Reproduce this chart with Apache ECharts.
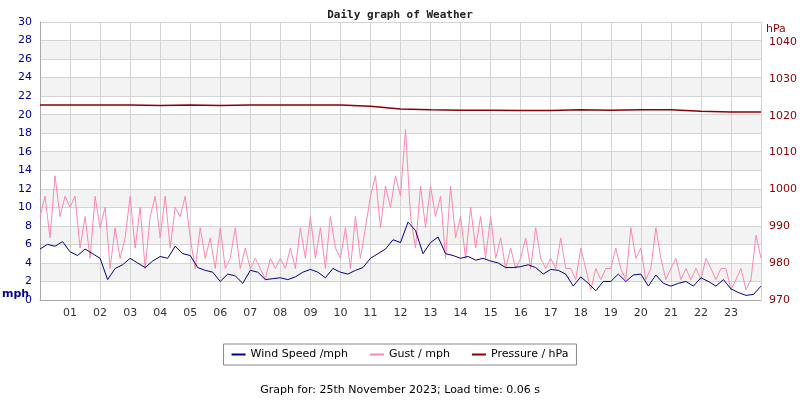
<!DOCTYPE html><html><head><meta charset="utf-8"><script src="https://cdn.jsdelivr.net/npm/echarts@6/dist/echarts.min.js"></script></head><body style="margin:0"><div id="c" style="width:800px;height:400px"></div><script>
const hourLabels=['01','02','03','04','05','06','07','08','09','10','11','12','13','14','15','16','17','18','19','20','21','22','23'];
// wind every 15 min from 00:00 to 24:00
const wind=[5.5,6,5.8,6.3,5.2,4.8,5.5,5,4.5,2.2,3.4,3.8,4.5,4,3.5,4.2,4.7,4.5,5.8,5,4.8,3.5,3.2,3,2,2.8,2.6,1.8,3.2,3,2.2,2.3,2.4,2.2,2.5,3,3.3,3,2.4,3.4,3,2.8,3.2,3.5,4.5,5,5.5,6.5,6.2,8.4,7.5,5,6.2,6.8,5,4.8,4.5,4.7,4.3,4.5,4.2,4,3.5,3.5,3.6,3.8,3.5,2.8,3.3,3.2,2.8,1.5,2.5,1.8,1,2,2,2.8,2,2.7,2.8,1.5,2.7,1.8,1.5,1.8,2,1.5,2.4,2,1.5,2.2,1.2,0.8,0.5,0.6,1.5];
// gust every 10 min
const gust=[9,11.2,6.7,13.4,9,11.2, 10,11.2,5.6,9,4.5,11.2, 7.8,10,3.4,7.8,4.5,6.7, 11.2,5.6,10,3.4,9,11.2, 6.7,11.2,5.6,10,9,11.2, 6.7,3.4,7.8,4.5,6.7,3.4, 7.8,3.4,4.5,7.8,3.4,5.6, 3.4,4.5,3.4,2.2,4.5,3.4, 4.5,3.4,5.6,3.4,7.8,4.5, 9,4.5,7.8,3.4,9,5.6, 4.5,7.8,3.4,9,4.5,7.8, 11.2,13.4,7.8,12.3,10,13.4, 11.2,18.4,9,5.6,12.3,7.8, 12.3,9,11.2,4.5,12.3,6.7, 9,4.5,10,5.6,9,4.5, 9,4.5,6.7,3.4,5.6,3.4, 4.5,6.7,3.4,7.8,4.5,3.4, 4.5,3.4,6.7,3.4,3.4,2.2, 5.6,3.4,1.1,3.4,2.2,3.4, 3.4,5.6,3.4,2.2,7.8,4.5, 5.6,2.2,3.4,7.8,4.5,2.2, 3.4,4.5,2.2,3.4,2.2,3.4, 2.2,4.5,3.4,2.2,3.4,3.4, 1.1,2.2,3.4,1.1,2.2,7.0, 4.5];
// pressure hourly
const pressure=[1022.9,1022.9,1022.9,1022.9,1022.8,1022.9,1022.8,1022.9,1022.9,1022.9,1022.9,1022.6,1021.8,1021.6,1021.5,1021.5,1021.4,1021.4,1021.6,1021.5,1021.6,1021.6,1021.2,1021.0,1021.0];
const pts=(a,step)=>a.map((v,i)=>[i*step,v]);
const c=echarts.init(document.getElementById('c'));
c.setOption({
 animation:false,
 title:[{text:'Daily graph of Weather',left:'center',top:5,textStyle:{fontFamily:'DejaVu Sans Mono',fontSize:11,fontWeight:'bold',color:'#222'}},
  {text:'Graph for: 25th November 2023; Load time: 0.06 s',left:'center',top:380,textStyle:{fontFamily:'DejaVu Sans',fontSize:11,fontWeight:'normal',color:'#000'}}],
 graphic:[{type:'text',left:2,top:289,style:{text:'mph',font:'bold 11px DejaVu Sans',fill:'#00008b'}},
  {type:'text',left:766,top:24,style:{text:'hPa',font:'11px DejaVu Sans',fill:'#8b0000'}}],
 legend:{bottom:35,left:'center',itemWidth:14,itemHeight:2,borderColor:'#888',borderWidth:1,padding:[5,8],itemGap:22,textStyle:{fontFamily:'DejaVu Sans',fontSize:11,color:'#000'},
  data:[{name:'Wind Speed /mph',icon:'rect'},{name:'Gust / mph',icon:'rect'},{name:'Pressure / hPa',icon:'rect'}]},
 grid:{left:40,right:38,top:22,bottom:100},
 xAxis:{type:'value',min:0,max:24,interval:1,axisLine:{lineStyle:{color:'#aaa'}},axisTick:{show:false},
  axisLabel:{color:'#333',fontFamily:'DejaVu Sans',fontSize:11,margin:8,formatter:v=>(v>0&&v<24)?hourLabels[v-1]:''},
  splitLine:{show:true,lineStyle:{color:'#d4d4d4'}}},
 yAxis:[{type:'value',min:0,max:30,interval:2,axisLine:{show:true,lineStyle:{color:'#aaa'}},axisTick:{show:false},
  axisLabel:{color:'#00008b',fontFamily:'DejaVu Sans',fontSize:11},
  splitLine:{lineStyle:{color:'#d4d4d4'}},splitArea:{show:true,areaStyle:{color:['#ffffff','#f3f3f3']}}},
  {type:'value',min:970,max:970+70*30/(258/9.267),interval:10,position:'right',axisLine:{show:false},axisTick:{show:false},splitLine:{show:false},
  axisLabel:{color:'#8b0000',fontFamily:'DejaVu Sans',fontSize:11,formatter:v=>v%10===0&&v<=1040?String(v):''}}],
 series:[
  {name:'Gust / mph',type:'line',data:pts(gust,1/6),showSymbol:false,lineStyle:{color:'#ff88aa',width:1},itemStyle:{color:'#ff88aa'}},
  {name:'Wind Speed /mph',type:'line',data:pts(wind,0.25),showSymbol:false,lineStyle:{color:'#00008b',width:1},itemStyle:{color:'#00008b'}},
  {name:'Pressure / hPa',type:'line',yAxisIndex:1,data:pts(pressure,1),showSymbol:false,lineStyle:{color:'#8b0000',width:1.5},itemStyle:{color:'#8b0000'}}
 ]
});
</script></body></html>
